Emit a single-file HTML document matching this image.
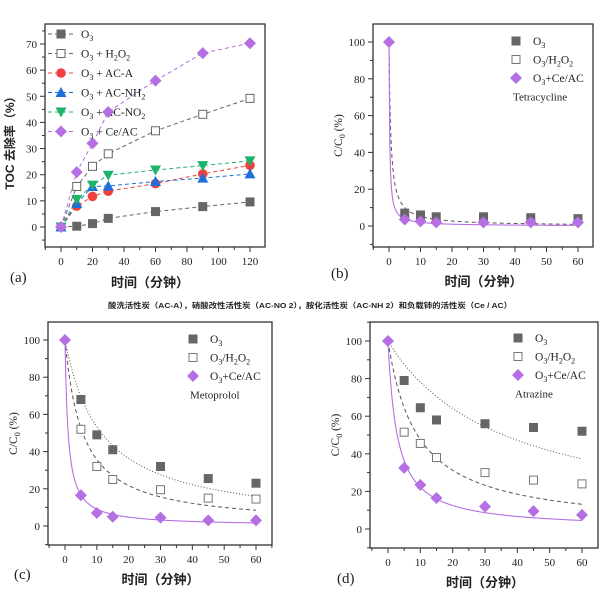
<!DOCTYPE html>
<html><head><meta charset="utf-8"><style>
html,body{margin:0;padding:0;background:#fff;}
svg{display:block;}
text{font-family:"Liberation Serif","Noto Serif CJK SC",serif;fill:#222;}
.cj{font-family:"Liberation Sans","Noto Sans CJK SC",sans-serif;font-weight:bold;}
</style></head><body>
<svg id="s" width="600" height="614" viewBox="0 0 600 614" xmlns="http://www.w3.org/2000/svg">
<rect width="600" height="614" fill="#fff"/>
<text class="cj" x="310" y="308" font-size="7.5" text-anchor="middle" textLength="404" lengthAdjust="spacingAndGlyphs">酸洗活性炭（AC-A），硝酸改性活性炭（AC-NO 2），胺化活性炭（AC-NH 2）和负载铈的活性炭（Ce / AC）</text>
</svg>
<script>
const S=document.getElementById('s');const NS='http://www.w3.org/2000/svg';
function el(t,a,txt){const e=document.createElementNS(NS,t);for(const k in a)e.setAttribute(k,a[k]);if(txt!==undefined)e.innerHTML=txt;S.appendChild(e);return e;}
function marker(type,x,y,c){const r=4.5;
 if(type=='sq')el('rect',{x:x-r,y:y-r,width:2*r,height:2*r,fill:c});
 else if(type=='osq')el('rect',{x:x-r+0.5,y:y-r+0.5,width:2*r-1,height:2*r-1,fill:'#fff',stroke:c,'stroke-width':1});
 else if(type=='ci')el('circle',{cx:x,cy:y,r:r+0.3,fill:c});
 else if(type=='tu')el('polygon',{points:`${x},${y-r-1} ${x+r+1},${y+r} ${x-r-1},${y+r}`,fill:c});
 else if(type=='td')el('polygon',{points:`${x},${y+r+1} ${x+r+1},${y-r} ${x-r-1},${y-r}`,fill:c});
 else if(type=='di')el('polygon',{points:`${x},${y-r-1.5} ${x+r+1.5},${y} ${x},${y+r+1.5} ${x-r-1.5},${y}`,fill:c});
}
function frame(P){
 el('rect',{x:P.x0,y:P.y0,width:P.x1-P.x0,height:P.y1-P.y0,fill:'none',stroke:'#333','stroke-width':1.3});
 P.X=v=>P.xa+(v-P.xv0)*(P.xb-P.xa)/(P.xv1-P.xv0);
 P.Y=v=>P.ya+(v-P.yv0)*(P.yb-P.ya)/(P.yv1-P.yv0);
 for(let v=P.ymin;v<=P.ymax+1e-9;v+=P.ystep/2){const y=P.Y(v);if(y<P.y0||y>P.y1)continue;const maj=Math.abs((v/P.ystep)-Math.round(v/P.ystep))<1e-6;
  el('line',{x1:P.x0,x2:P.x0-(maj?5:3),y1:y,y2:y,stroke:'#333'});
  if(maj&&v>=P.ylab0&&v<=P.ylab1)el('text',{x:P.x0-8,y:y+4,'font-size':11,'text-anchor':'end'},v);}
 for(let v=P.xmin;v<=P.xmax+1e-9;v+=P.xstep/2){const x=P.X(v);if(x<P.x0||x>P.x1)continue;const maj=Math.abs((v/P.xstep)-Math.round(v/P.xstep))<1e-6;
  el('line',{x1:x,x2:x,y1:P.y1,y2:P.y1+(maj?5:3),stroke:'#333'});
  if(maj&&v>=0)el('text',{x:x,y:P.y1+18,'font-size':11,'text-anchor':'middle'},v);}
}
// Panel a
let A={x0:45,x1:265,y0:24,y1:247,xa:61,xb:250,xv0:0,xv1:120,ya:227,yb:44,yv0:0,yv1:70,ymin:-10,ymax:75,ystep:10,xmin:-10,xmax:130,xstep:20,ylab0:0,ylab1:70};
frame(A);
const tA=[0,10,20,30,60,90,120];
const sA=[
['sq','#666',[0,0.3,1.3,3.3,5.9,7.8,9.6],'O<tspan font-size="8" dy="3">3</tspan>'],
['osq','#666',[0,15.5,23.2,28,36.8,43.1,49.2],'O<tspan font-size="8" dy="3">3</tspan><tspan dy="-3"> + H</tspan><tspan font-size="8" dy="3">2</tspan><tspan dy="-3">O</tspan><tspan font-size="8" dy="3">2</tspan>'],
['ci','#f04040',[0,8,11.7,13.7,16.6,20.3,23.6],'O<tspan font-size="8" dy="3">3</tspan><tspan dy="-3"> + AC-A</tspan>'],
['tu','#1e6fd9',[0,9,15.5,15.7,17.4,18.7,20.3],'O<tspan font-size="8" dy="3">3</tspan><tspan dy="-3"> + AC-NH</tspan><tspan font-size="8" dy="3">2</tspan>'],
['td','#1db36b',[0,10.5,16,19.8,21.8,23.5,25.3],'O<tspan font-size="8" dy="3">3</tspan><tspan dy="-3"> + AC-NO</tspan><tspan font-size="8" dy="3">2</tspan>'],
['di','#b56fe2',[0,21,32,44,56,66.5,70.3],'O<tspan font-size="8" dy="3">3</tspan><tspan dy="-3"> + Ce/AC</tspan>']];
sA.forEach((s,i)=>{const pts=tA.map((t,j)=>A.X(t)+','+A.Y(s[2][j])).join(' ');
 el('polyline',{points:pts,fill:'none',stroke:s[1],'stroke-dasharray':'4,3','stroke-width':1});});
sA.forEach((s,i)=>{tA.forEach((t,j)=>marker(s[0],A.X(t),A.Y(s[2][j]),s[1]));
 const ly=34+i*19.5;el('line',{x1:48,x2:74,y1:ly,y2:ly,stroke:s[1],'stroke-dasharray':'4,3'});marker(s[0],61,ly,s[1]);
 el('text',{x:81,y:ly+4,'font-size':11.5},s[3]);});
el('text',{class:'cj',x:0,y:0,'font-size':12,'text-anchor':'middle',transform:'translate(14,140) rotate(-90)'},'TOC 去除率（%）');
el('text',{class:'cj',x:150,y:287,'font-size':13,'text-anchor':'middle'},'时间（分钟）');
el('text',{x:10,y:282,'font-size':15},'(a)');
function panel(P,data,fits,name,lab,labx,laby,lgx,lgy){
 frame(P);const ts=[0,5,10,15,30,45,60];
 const styles=[{c:'#555','stroke-dasharray':'1,2'},{c:'#555','stroke-dasharray':'4,3'},{c:'#b56fe2'}];
 fits.forEach((k,i)=>{if(k==null)return;let p=[];for(let t=0;t<=60;t+=0.25)p.push(P.X(t)+','+P.Y(100/(1+k*t)));
  const a={points:p.join(' '),fill:'none',stroke:styles[i].c,'stroke-width':i==2?1.1:1};if(styles[i]['stroke-dasharray'])a['stroke-dasharray']=styles[i]['stroke-dasharray'];el('polyline',a);});
 const mk=['sq','osq','di'],col=['#666','#777','#b56fe2'];
 data.forEach((d,i)=>{d.forEach((v,j)=>{if(v!=null)marker(mk[i],P.X(ts[j]),P.Y(v),col[i]);});});
 const lt=['O<tspan font-size="8" dy="3">3</tspan>','O<tspan font-size="8" dy="3">3</tspan><tspan dy="-3">/H</tspan><tspan font-size="8" dy="3">2</tspan><tspan dy="-3">O</tspan><tspan font-size="8" dy="3">2</tspan>','O<tspan font-size="8" dy="3">3</tspan><tspan dy="-3">+Ce/AC</tspan>'];
 lt.forEach((t,i)=>{const y=lgy+i*18.5;marker(mk[i],lgx,y,col[i]);el('text',{x:lgx+17,y:y+4,'font-size':11.5},t);});
 el('text',{x:lgx-3,y:lgy+3*18.5+4,'font-size':11},name);
 el('text',{x:0,y:0,'font-size':11.5,'text-anchor':'middle',transform:`translate(${P.x0-31},${(P.y0+P.y1)/2}) rotate(-90)`},'C/C<tspan font-size="8" dy="3">0</tspan><tspan dy="-3"> (%)</tspan>');
 el('text',{class:'cj',x:(P.X(0)+P.X(60))/2,y:P.y1+39,'font-size':13,'text-anchor':'middle'},'时间（分钟）');
 el('text',{x:labx,y:laby,'font-size':15},lab);
}
const base={xv0:0,xv1:60,yv0:0,yv1:100,ymin:-10,ymax:110,ystep:20,xmin:-5,xmax:65,xstep:10,ylab0:0,ylab1:100};
panel(Object.assign({},base,{x0:373,x1:593,y0:24,y1:247,xa:389,xb:578,ya:226,yb:42}),
 [[null,7,6,5,5,4.5,4],[null,null,null,null,null,null,null],[100,3.5,2.5,2,2,2,2]],[null,1.8,5],'Tetracycline','(b)',331,278,516,41);
panel(Object.assign({},base,{x0:48,x1:272,y0:322,y1:545,xa:65,xb:256,ya:526,yb:340}),
 [[null,68,49,41,32,25.5,23],[null,52,32,25,19.5,15,14.5],[100,16.5,7,5,4.5,3,3]],[0.0875,0.18,1.0],'Metoprolol','(c)',14,579,193,339);
panel(Object.assign({},base,{x0:370,x1:598,y0:322,y1:548,xa:388,xb:582,ya:529,yb:341}),
 [[null,79,64.5,58,56,54,52],[null,51.5,45.5,38,30,26,24],[100,32.5,23.5,16.5,12,9.5,7.5]],[0.028,0.11,0.35],'Atrazine','(d)',337,583,518,338);
</script>
</body></html>
